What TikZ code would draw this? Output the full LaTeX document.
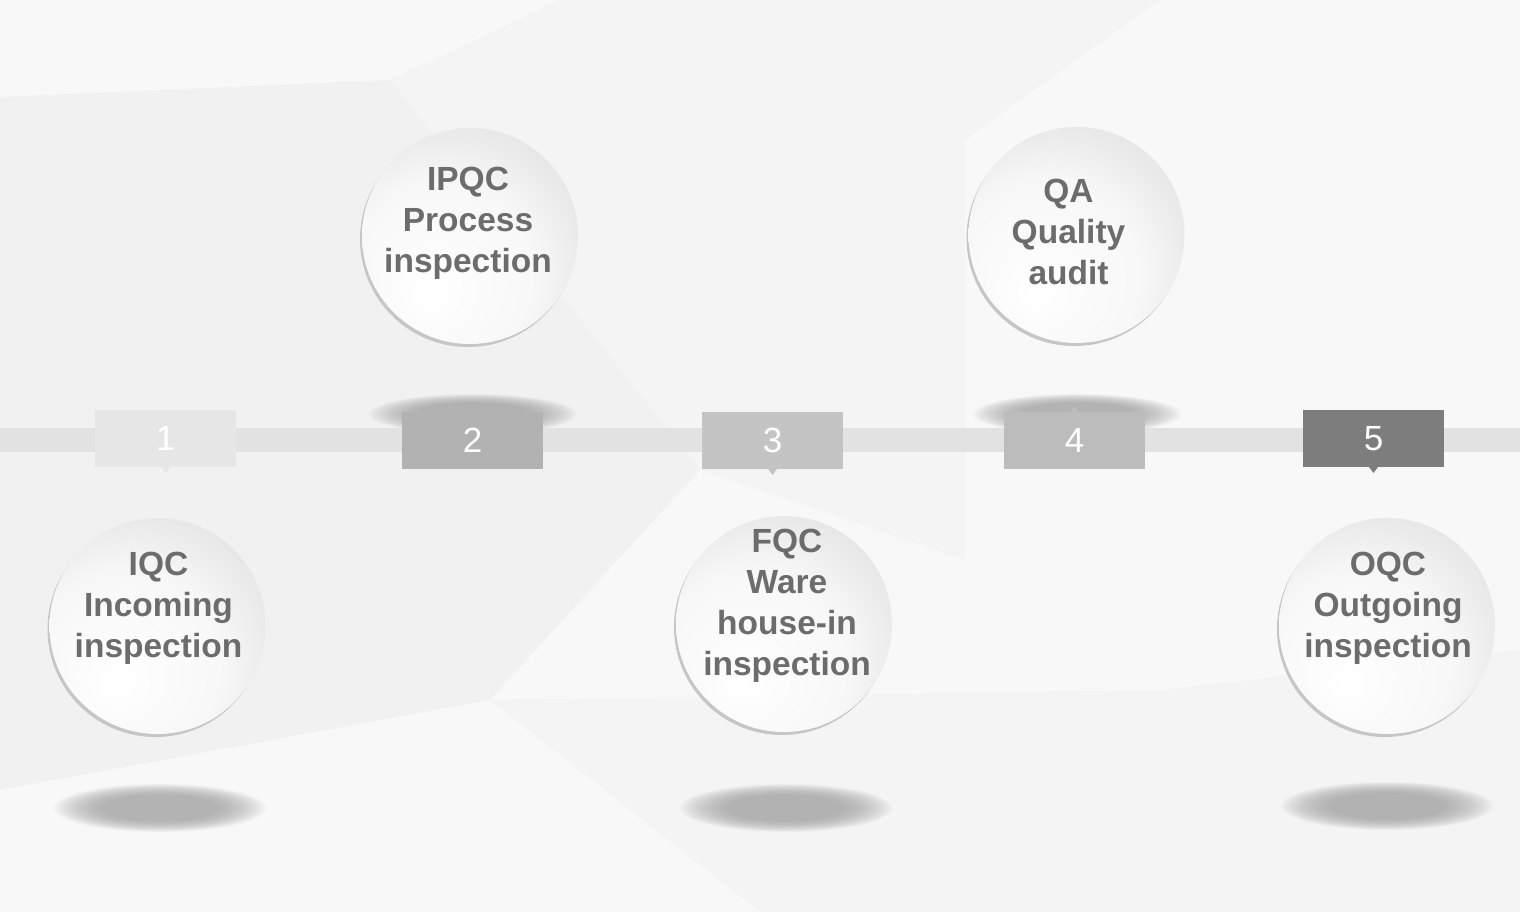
\documentclass[tikz,border=0pt]{standalone}
\usepackage{fontspec}
\setmainfont{Liberation Sans}

\definecolor{bgcol}{HTML}{F4F4F4}
\definecolor{bglight}{HTML}{F8F8F8}
\definecolor{bgdark}{HTML}{F1F1F1}
\definecolor{bandcol}{HTML}{E2E2E2}
\definecolor{txtcol}{HTML}{6C6C6C}
\definecolor{rimcol}{HTML}{C6C6C6}
\definecolor{shadecol}{HTML}{9E9E9E}
\definecolor{boxA}{HTML}{E6E6E6}
\definecolor{boxB}{HTML}{B2B2B2}
\definecolor{boxC}{HTML}{C4C4C4}
\definecolor{boxD}{HTML}{BCBCBC}
\definecolor{boxE}{HTML}{7D7D7D}

\pgfdeclareradialshading{ballshade}{\pgfpoint{-10bp}{-14bp}}{%
  color(0bp)=(white); color(22bp)=(white!97!black);
  color(44bp)=(white!85!black); color(68bp)=(white!76!black)}

\tikzset{
  ball/.style={circle, minimum size=216pt, inner sep=0pt, shading=ballshade},
  balltext/.style={align=center, text=txtcol, inner sep=0pt,
    font=\fontsize{33.5}{41}\selectfont\bfseries},
  numbox/.style={minimum width=141pt, minimum height=57pt, inner sep=0pt,
    text=white, font=\fontsize{35}{35}\selectfont},
  floorshade/.style={fill=shadecol, opacity=0.06},
}

\begin{document}
\begin{tikzpicture}[x=1pt,y=-1pt]

  % soft shadow: centre x, centre y, x radius, y radius
  \newcommand\softshadow[4]{
    \foreach \k in {0,...,19}
      \fill[floorshade] (#1,#2) ellipse [x radius={#3*(1-\k/42)}, y radius={#4*(1-\k/42)}];
  }

  \useasboundingbox (0,0) rectangle (1520,912);

  % background facets
  \fill[bgcol] (0,0) rectangle (1520,912);
  \fill[bglight] (0,0) -- (560,0) -- (390,80) -- (0,97) -- cycle;
  \fill[bgdark] (0,97) -- (390,80) -- (700,470) -- (490,700) -- (0,790) -- cycle;
  \fill[bglight] (700,470) -- (965,560) -- (1160,690) -- (490,700) -- cycle;
  \fill[bglight] (0,790) -- (490,700) -- (760,912) -- (0,912) -- cycle;
  \fill[bglight] (1160,0) -- (1520,0) -- (1520,650) -- (1160,690) -- (965,690) -- (965,140) -- cycle;

  % shadows
  \softshadow{473}{414}{104}{20}
  \softshadow{1077}{414}{104}{20}
  \softshadow{160}{808}{106}{24}
  \softshadow{786}{808}{106}{24}
  \softshadow{1387}{806}{106}{24}

  % band
  \fill[bandcol] (0,428) rectangle (1520,452);

  % numbered boxes, \d = 1 pointer down, -1 pointer up
  \foreach \i/\x/\y/\c/\d in {1/165.5/438.5/boxA/1, 2/472.5/440.5/boxB/-1,
      3/772.5/440.5/boxC/1, 4/1074.5/440.5/boxD/-1, 5/1373.5/438.5/boxE/1}{
    \node[numbox, fill=\c] (n\i) at (\x,\y) {\i};
    \fill[\c] (n\i.center) ++(-4.5,\d*28.5) -- ++(9,0) -- ++(-4.5,\d*6) -- cycle;
  }

  % circles
  \foreach \nm/\x/\y/\dx/\dy/\txt in {
      ipqc/470/236/-2/-13/{IPQC\\Process\\inspection},
      qa/1076.5/235/-8/-3/{QA\\Quality\\audit},
      iqc/157.5/626/1/-18/{IQC\\Incoming\\inspection},
      fqc/784/624/3/-18/{FQC\\Ware\\house-in\\inspection},
      oqc/1387/626/1/-18/{OQC\\Outgoing\\inspection}}{
    \fill[rimcol] (\x-2,\y+3) circle[radius=108pt];
    \node[ball] (\nm) at (\x,\y) {};
    \node[balltext] (\nm-t) at (\x+\dx,\y+\dy) {\txt};
  }

\end{tikzpicture}
\end{document}
